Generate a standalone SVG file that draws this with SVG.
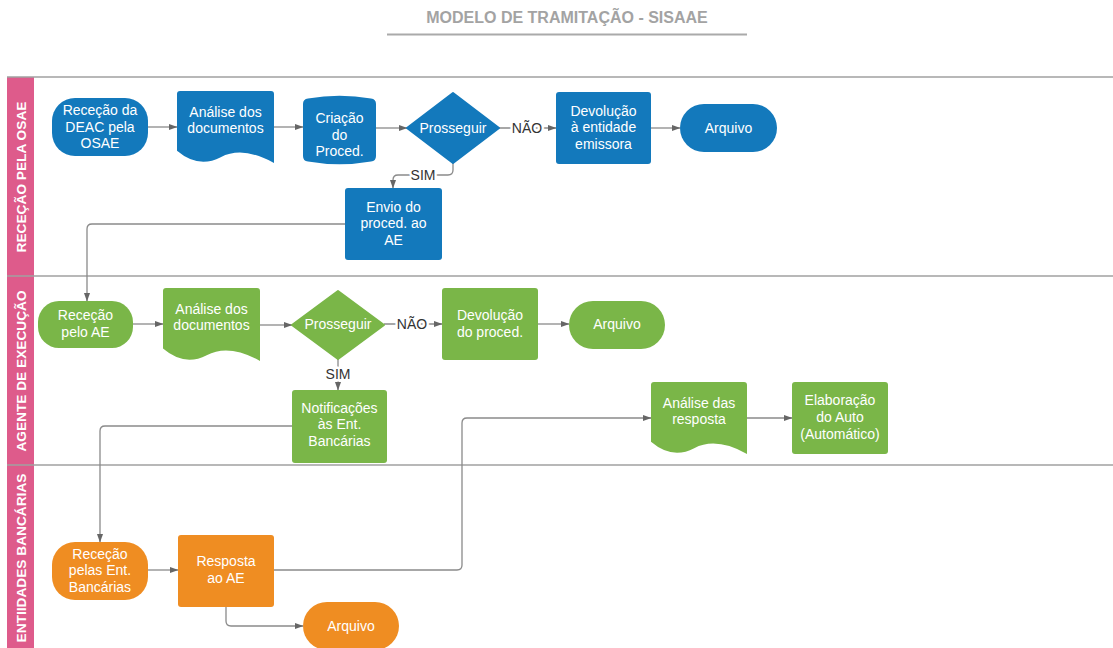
<svg xmlns="http://www.w3.org/2000/svg" width="1113" height="648" viewBox="0 0 1113 648">
<style>
text{font-family:"Liberation Sans",Arial,sans-serif}
.t{font-size:14px;fill:#fff;text-anchor:middle}
.blue{fill:#1379BC}
.green{fill:#7AB648}
.orange{fill:#EF8D22}
.lane{font-size:13.7px;font-weight:bold;fill:#fff;text-anchor:middle}
.c{fill:none;stroke:#8a8a8a;stroke-width:1.3}
.lbl{font-size:14px;fill:#333;text-anchor:middle;stroke:#fff;stroke-width:5;paint-order:stroke;stroke-linejoin:round}
.sep{stroke:#a0a0a0;stroke-width:1.5}
</style>
<defs>
<marker id="ah" markerWidth="9" markerHeight="8" refX="8.5" refY="4" orient="auto" markerUnits="userSpaceOnUse">
<path d="M0,0.8 L9,4 L0,7.2 Z" fill="#666"/>
</marker>
</defs>
<rect width="1113" height="648" fill="#fff"/>
<g id="title">
<text x="567" y="23" font-size="16" font-weight="bold" fill="#a3a3a3" text-anchor="middle">MODELO DE TRAMITAÇÃO - SISAAE</text>
<line x1="387" y1="34.5" x2="747" y2="34.5" stroke="#aaa" stroke-width="2"/>
</g>
<g id="lanes">
<rect x="7" y="77" width="27" height="571" fill="#DE5B8B"/>
<line class="sep" x1="7" y1="77" x2="1113" y2="77"/>
<line class="sep" x1="7" y1="276" x2="1113" y2="276"/>
<line class="sep" x1="7" y1="465" x2="1113" y2="465"/>
<text class="lane" transform="translate(25.5,177) rotate(-90)">RECEÇÃO PELA OSAE</text>
<text class="lane" transform="translate(25.5,371) rotate(-90)">AGENTE DE EXECUÇÃO</text>
<text class="lane" transform="translate(25.5,558) rotate(-90)">ENTIIDADES BANCÁRIAS</text>
</g>
<g id="connectors">
<path class="c" d="M148,127 H177" marker-end="url(#ah)"/>
<path class="c" d="M274,127 H303" marker-end="url(#ah)"/>
<path class="c" d="M376,128 H407" marker-end="url(#ah)"/>
<path class="c" d="M499,128 H556" marker-end="url(#ah)"/>
<path class="c" d="M651,128 H680" marker-end="url(#ah)"/>
<path class="c" d="M453,163 V170 Q453,175 448,175 H398 Q393,175 393,180 V188" marker-end="url(#ah)"/>
<path class="c" d="M345,224 H92 Q87,224 87,229 V301" marker-end="url(#ah)"/>
<path class="c" d="M133,324 H163" marker-end="url(#ah)"/>
<path class="c" d="M260,325 H292" marker-end="url(#ah)"/>
<path class="c" d="M384,324 H442" marker-end="url(#ah)"/>
<path class="c" d="M538,324 H569" marker-end="url(#ah)"/>
<path class="c" d="M338,359 V390" marker-end="url(#ah)"/>
<path class="c" d="M292,426 H105 Q100,426 100,431 V542" marker-end="url(#ah)"/>
<path class="c" d="M274,570 H457 Q462,570 462,565 V423 Q462,418 467,418 H651" marker-end="url(#ah)"/>
<path class="c" d="M747,418 H792" marker-end="url(#ah)"/>
<path class="c" d="M148,570 H178" marker-end="url(#ah)"/>
<path class="c" d="M226,607 V621 Q226,626 231,626 H303" marker-end="url(#ah)"/>
<text class="lbl" x="527" y="133">NÃO</text>
<text class="lbl" x="423" y="180">SIM</text>
<text class="lbl" x="412" y="329">NÃO</text>
<text class="lbl" x="338" y="379">SIM</text>
</g>
<g id="n1"><rect class="blue" x="52" y="98" width="96" height="58" rx="23"/>
<text class="t"><tspan x="100" y="115">Receção da</tspan><tspan x="100" y="131.5">DEAC pela</tspan><tspan x="100" y="148">OSAE</tspan></text></g>
<g id="n2"><path class="blue" d="M177,94 Q177,91 180,91 H271 Q274,91 274,94 V163 Q243,145.7 220.7,157.2 Q198.3,168.8 177,150.8 Z"/>
<text class="t"><tspan x="225.5" y="117">Análise dos</tspan><tspan x="225.5" y="133">documentos</tspan></text></g>
<g id="n3"><path class="blue" d="M303,104 Q303,99 308,98.5 Q339.5,93 371,98.5 Q376,99 376,104 V156 Q376,161 371,161.5 Q339.5,167 308,161.5 Q303,161 303,156 Z"/>
<text class="t"><tspan x="339.5" y="123">Criação</tspan><tspan x="339.5" y="139.5">do</tspan><tspan x="339.5" y="156">Proced.</tspan></text></g>
<g id="n4"><polygon class="blue" points="407,128 453,93 499,128 453,163" stroke="#1379BC" stroke-width="2" stroke-linejoin="round"/>
<text class="t" x="453" y="133">Prosseguir</text></g>
<g id="n5"><rect class="blue" x="556" y="92" width="95" height="72" rx="3"/>
<text class="t"><tspan x="603.5" y="115.5">Devolução</tspan><tspan x="603.5" y="132">à entidade</tspan><tspan x="603.5" y="148.5">emissora</tspan></text></g>
<g id="n6"><rect class="blue" x="680" y="104" width="97" height="48" rx="24"/>
<text class="t" x="728.5" y="133">Arquivo</text></g>
<g id="n7"><rect class="blue" x="345" y="188" width="97" height="72" rx="3"/>
<text class="t"><tspan x="393.5" y="211.5">Envio do</tspan><tspan x="393.5" y="228">proced. ao</tspan><tspan x="393.5" y="244.5">AE</tspan></text></g>
<g id="n8"><rect class="green" x="38" y="301" width="95" height="47" rx="21"/>
<text class="t"><tspan x="85.5" y="320">Receção</tspan><tspan x="85.5" y="336.5">pelo AE</tspan></text></g>
<g id="n9"><path class="green" d="M163,291 Q163,288 166,288 H257 Q260,288 260,291 V361 Q229,343.5 206.7,355.2 Q184.3,366.8 163,348.6 Z"/>
<text class="t"><tspan x="211.5" y="313.5">Análise dos</tspan><tspan x="211.5" y="330">documentos</tspan></text></g>
<g id="n10"><polygon class="green" points="292,325 338,291 384,325 338,359" stroke="#7AB648" stroke-width="2" stroke-linejoin="round"/>
<text class="t" x="338" y="329">Prosseguir</text></g>
<g id="n11"><rect class="green" x="442" y="288" width="96" height="72" rx="3"/>
<text class="t"><tspan x="490" y="320">Devolução</tspan><tspan x="490" y="336.5">do proced.</tspan></text></g>
<g id="n12"><rect class="green" x="569" y="301" width="96" height="48" rx="24"/>
<text class="t" x="617" y="329">Arquivo</text></g>
<g id="n13"><rect class="green" x="292" y="390" width="95" height="73" rx="3"/>
<text class="t"><tspan x="339.5" y="412.5">Notificações</tspan><tspan x="339.5" y="429">às Ent.</tspan><tspan x="339.5" y="446">Bancárias</tspan></text></g>
<g id="n14"><path class="green" d="M651,385 Q651,382 654,382 H744 Q747,382 747,385 V454 Q716.3,436.7 694.2,448.2 Q672.1,459.8 651,441.8 Z"/>
<text class="t"><tspan x="699" y="407.5">Análise das</tspan><tspan x="699" y="424">resposta</tspan></text></g>
<g id="n15"><rect class="green" x="792" y="382" width="96" height="72" rx="3"/>
<text class="t"><tspan x="840" y="405">Elaboração</tspan><tspan x="840" y="421.5">do Auto</tspan><tspan x="840" y="439">(Automático)</tspan></text></g>
<g id="n16"><rect class="orange" x="52" y="542" width="96" height="58" rx="23"/>
<text class="t"><tspan x="100" y="558.5">Receção</tspan><tspan x="100" y="575">pelas Ent.</tspan><tspan x="100" y="591.5">Bancárias</tspan></text></g>
<g id="n17"><rect class="orange" x="178" y="535" width="96" height="72" rx="3"/>
<text class="t"><tspan x="226" y="566">Resposta</tspan><tspan x="226" y="583">ao AE</tspan></text></g>
<g id="n18"><rect class="orange" x="303" y="602" width="96" height="48" rx="24"/>
<text class="t" x="351" y="631">Arquivo</text></g>
</svg>
